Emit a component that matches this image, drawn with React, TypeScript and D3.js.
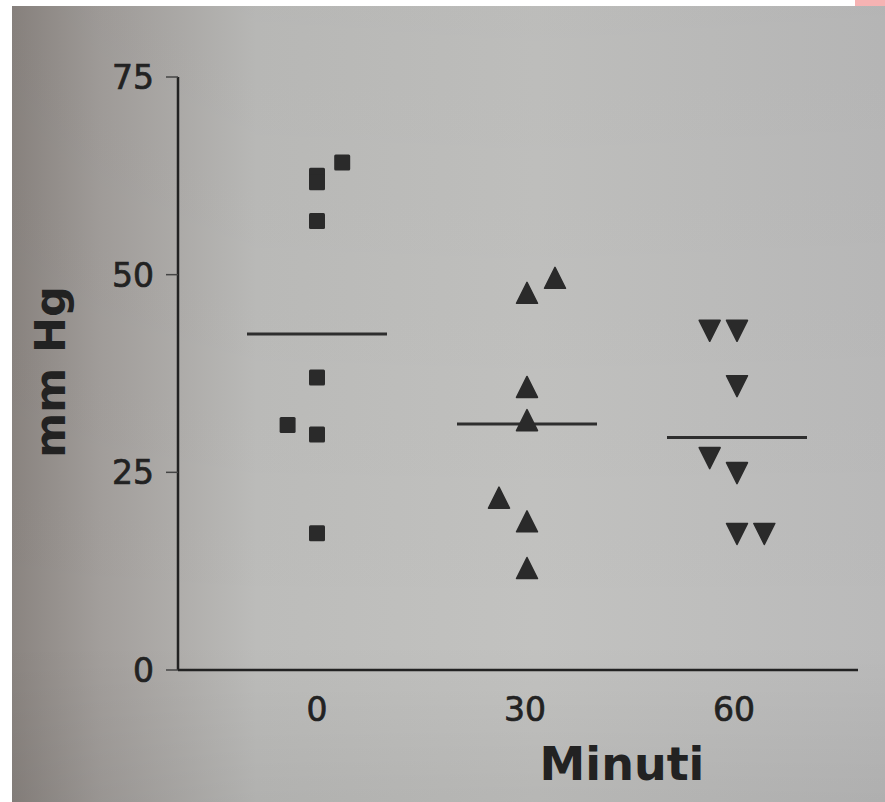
import React from "react";
import * as d3 from "d3";

// ---- data ----
const groups = ["0", "30", "60"];
const groupMinutes = [0, 30, 60];
const squareValues = [64.2, 62.5, 61.7, 56.8, 37.0, 31.0, 29.8, 17.3];
const squareJitter = [3.6, 0, 0, 0, 0, -4.2, 0, 0];
const upTriValues = [47.7, 49.6, 35.8, 31.6, 21.8, 18.8, 12.9];
const upTriJitter = [0, 4, 0, 0, -4, 0, 0];
const downTriValues = [42.9, 42.9, 35.9, 26.8, 24.9, 17.2, 17.2];
const downTriJitter = [-3.9, 0, 0, -3.9, 0, 0, 3.9];
const meanValues = [42.5, 31.1, 29.4];
const yTicks = [0, 25, 50, 75];
const yLabel = "mm Hg";
const xLabel = "Minuti";

const W = 885;
const H = 802;

export default function App() {
  const x = d3.scaleLinear().domain([0, 60]).range([317, 737]);
  const y = d3.scaleLinear().domain([0, 75]).range([670, 77]);
  const axisX = 178;
  const axisRight = 858;
  const ink = "#222";
  const markInk = "#2a2a2a";
  const tickFont = "DejaVu Sans, sans-serif";

  const sq = 16;
  const tw = 21;
  const th = 21;
  const upPath = `M0,${-th / 2}L${tw / 2},${th / 2}L${-tw / 2},${th / 2}Z`;
  const downPath = `M0,${th / 2}L${tw / 2},${-th / 2}L${-tw / 2},${-th / 2}Z`;

  return (
    <svg
      width={W}
      height={H}
      style={{ position: "absolute", left: 0, top: 0, display: "block" }}
    >
      <defs>
        <linearGradient id="bgH" x1="0" y1="0" x2="1" y2="0">
          <stop offset="0" stopColor="#8a8480" />
          <stop offset="0.1" stopColor="#a29e9b" />
          <stop offset="0.28" stopColor="#bcbcba" />
          <stop offset="0.6" stopColor="#c2c2c0" />
          <stop offset="1" stopColor="#bababa" />
        </linearGradient>
        <linearGradient id="bgV" x1="0" y1="0" x2="0" y2="1">
          <stop offset="0" stopColor="#000" stopOpacity="0.03" />
          <stop offset="0.8" stopColor="#000" stopOpacity="0" />
          <stop offset="1" stopColor="#000" stopOpacity="0.06" />
        </linearGradient>
      </defs>
      <rect x={0} y={0} width={W} height={H} fill="#ffffff" />
      <rect x={12} y={6} width={W - 12} height={H - 6} fill="url(#bgH)" />
      <rect x={12} y={6} width={W - 12} height={H - 6} fill="url(#bgV)" />
      <rect x={855} y={0} width={30} height={6} fill="#f6b3b3" />

      {/* axes */}
      <line x1={axisX} x2={axisX} y1={y(75)} y2={y(0)} stroke={ink} strokeWidth={2.5} />
      <line x1={axisX} x2={axisRight} y1={y(0)} y2={y(0)} stroke={ink} strokeWidth={2.5} />
      {yTicks.map((t) => (
        <g key={t}>
          <line x1={axisX - 12} x2={axisX} y1={y(t)} y2={y(t)} stroke="#444" strokeWidth={1.5} />
          <text
            x={axisX - 24}
            y={y(t)}
            dy="0.36em"
            textAnchor="end"
            fontFamily={tickFont}
            fontSize={33}
            fill={ink}
            stroke={ink}
            strokeWidth={0.7}
          >
            {t}
          </text>
        </g>
      ))}
      {groups.map((g, i) => (
        <text
          key={g}
          x={x(groupMinutes[i]) - (i === 2 ? 3 : i === 1 ? 2 : 0)}
          y={721}
          textAnchor="middle"
          fontFamily={tickFont}
          fontSize={33}
          fill={ink}
          stroke={ink}
          strokeWidth={0.7}
        >
          {g}
        </text>
      ))}
      <text
        x={622}
        y={780}
        textAnchor="middle"
        fontFamily={tickFont}
        fontWeight="bold"
        fontSize={46}
        fill={ink}
      >
        {xLabel}
      </text>
      <text
        transform={`translate(65,372) rotate(-90)`}
        textAnchor="middle"
        fontFamily={tickFont}
        fontWeight="bold"
        fontSize={43}
        fill={ink}
      >
        {yLabel}
      </text>

      {/* mean lines */}
      {meanValues.map((m, i) => (
        <line
          key={i}
          x1={x(groupMinutes[i] - 10)}
          x2={x(groupMinutes[i] + 10)}
          y1={y(m)}
          y2={y(m)}
          stroke="#2e2e2e"
          strokeWidth={3}
        />
      ))}

      {/* squares (0 min) */}
      {squareValues.map((v, i) => (
        <rect
          key={"s" + i}
          x={x(groupMinutes[0] + squareJitter[i]) - sq / 2}
          y={y(v) - sq / 2}
          width={sq}
          height={sq}
          fill={markInk}
          rx={1.5}
        />
      ))}
      {/* up triangles (30 min) */}
      {upTriValues.map((v, i) => (
        <path
          key={"u" + i}
          d={upPath}
          transform={`translate(${x(groupMinutes[1] + upTriJitter[i])},${y(v)})`}
          fill={markInk}
          stroke={markInk}
          strokeWidth={1.5}
          strokeLinejoin="round"
        />
      ))}
      {/* down triangles (60 min) */}
      {downTriValues.map((v, i) => (
        <path
          key={"d" + i}
          d={downPath}
          transform={`translate(${x(groupMinutes[2] + downTriJitter[i])},${y(v)})`}
          fill={markInk}
          stroke={markInk}
          strokeWidth={1.5}
          strokeLinejoin="round"
        />
      ))}
    </svg>
  );
}
